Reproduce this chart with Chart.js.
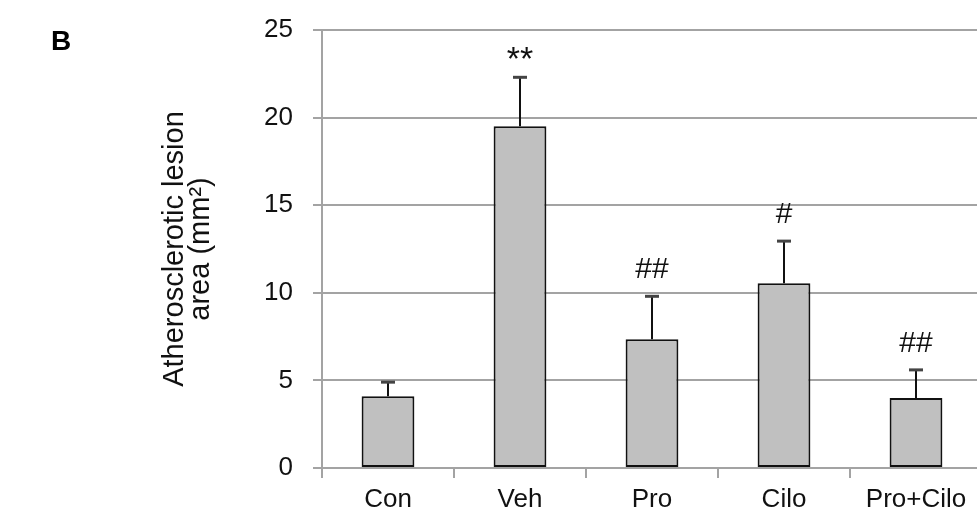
<!DOCTYPE html>
<html>
<head>
<meta charset="utf-8">
<script src="https://cdn.jsdelivr.net/npm/chart.js@4"></script>
<style>
  html, body { margin: 0; padding: 0; background: #fff; overflow: hidden; }
  #wrap { position: relative; width: 1000px; height: 514px; }
</style>
</head>
<body>
<div id="wrap"><canvas id="chart"></canvas></div>
<script>
// data
const categories = ['Con', 'Veh', 'Pro', 'Cilo', 'Pro+Cilo'];
const lesionArea = [4.1, 19.5, 7.35, 10.55, 4.0];
const lesionError = [0.8, 2.8, 2.45, 2.4, 1.6];
const significance = ['', '**', '##', '#', '##'];
const yTicks = [0, 5, 10, 15, 20, 25];

const gridGrey = '#a3a3a3';
const fontFamily = '"Liberation Sans", Arial, sans-serif';

// error bars (upper only) + significance marks
const errorBarPlugin = {
  id: 'errorBars',
  afterDatasetsDraw(chart) {
    const ctx = chart.ctx;
    const meta = chart.getDatasetMeta(0);
    const yScale = chart.scales.y;
    ctx.save();
    meta.data.forEach((bar, i) => {
      const x = bar.x;
      const yTop = yScale.getPixelForValue(lesionArea[i]);
      const yCap = yScale.getPixelForValue(lesionArea[i] + lesionError[i]);
      ctx.strokeStyle = '#111';
      ctx.lineWidth = 2;
      ctx.beginPath();
      ctx.moveTo(x, yTop);
      ctx.lineTo(x, yCap);
      ctx.stroke();
      ctx.strokeStyle = '#444';
      ctx.lineWidth = 3;
      ctx.beginPath();
      ctx.moveTo(x - 7, yCap);
      ctx.lineTo(x + 7, yCap);
      ctx.stroke();

      const mark = significance[i];
      if (mark) {
        ctx.font = (mark.includes('*') ? '34px ' : '30px ') + fontFamily;
        ctx.fillStyle = '#111';
        ctx.textAlign = 'center';
        ctx.textBaseline = 'alphabetic';
        const m = ctx.measureText(mark);
        ctx.fillText(mark, x, yCap - 18 - m.actualBoundingBoxDescent);
      }
    });
    ctx.restore();
  },
  afterDraw(chart) {
    const ctx = chart.ctx;
    ctx.save();
    ctx.font = 'bold 28px ' + fontFamily;
    ctx.fillStyle = '#000';
    ctx.textAlign = 'left';
    ctx.textBaseline = 'alphabetic';
    ctx.fillText('B', 51, 50);
    ctx.restore();
  }
};

const ctx = document.getElementById('chart').getContext('2d');
new Chart(ctx, {
  type: 'bar',
  data: {
    labels: categories,
    datasets: [{
      data: lesionArea,
      backgroundColor: '#c0c0c0',
      borderColor: '#111',
      borderWidth: 2,
      borderSkipped: false,
      categoryPercentage: 1.0,
      barPercentage: 0.4
    }]
  },
  options: {
    responsive: true,
    maintainAspectRatio: false,
    animation: false,
    devicePixelRatio: 1,
    layout: { padding: { left: 0, right: 18, top: 30, bottom: 0 } },
    plugins: {
      legend: { display: false },
      tooltip: { enabled: false }
    },
    scales: {
      x: {
        grid: {
          offset: true,
          drawOnChartArea: false,
          drawTicks: true,
          tickLength: 10,
          color: gridGrey,
          lineWidth: 2
        },
        border: { color: gridGrey, width: 2 },
        ticks: {
          color: '#111',
          padding: 6,
          font: { family: fontFamily, size: 26 }
        },
        afterFit(scale) { scale.height = 46; }
      },
      y: {
        min: 0,
        max: 25,
        afterBuildTicks(scale) { scale.ticks = yTicks.map(v => ({ value: v })); },
        grid: {
          color: gridGrey,
          lineWidth: 2,
          drawTicks: true,
          tickLength: 9
        },
        border: { color: gridGrey, width: 2 },
        ticks: {
          color: '#111',
          padding: 20,
          font: { family: fontFamily, size: 26 }
        },
        title: {
          display: true,
          text: ['Atherosclerotic lesion', 'area (mm²)'],
          color: '#111',
          font: { family: fontFamily, size: 29, lineHeight: 0.9 },
          padding: { top: 162, bottom: 0 }
        },
        afterFit(scale) {
          scale.width = 322;
          scale.paddingTop = 0;
          scale.paddingBottom = 0;
        }
      }
    }
  },
  plugins: [errorBarPlugin]
});
</script>
</body>
</html>
